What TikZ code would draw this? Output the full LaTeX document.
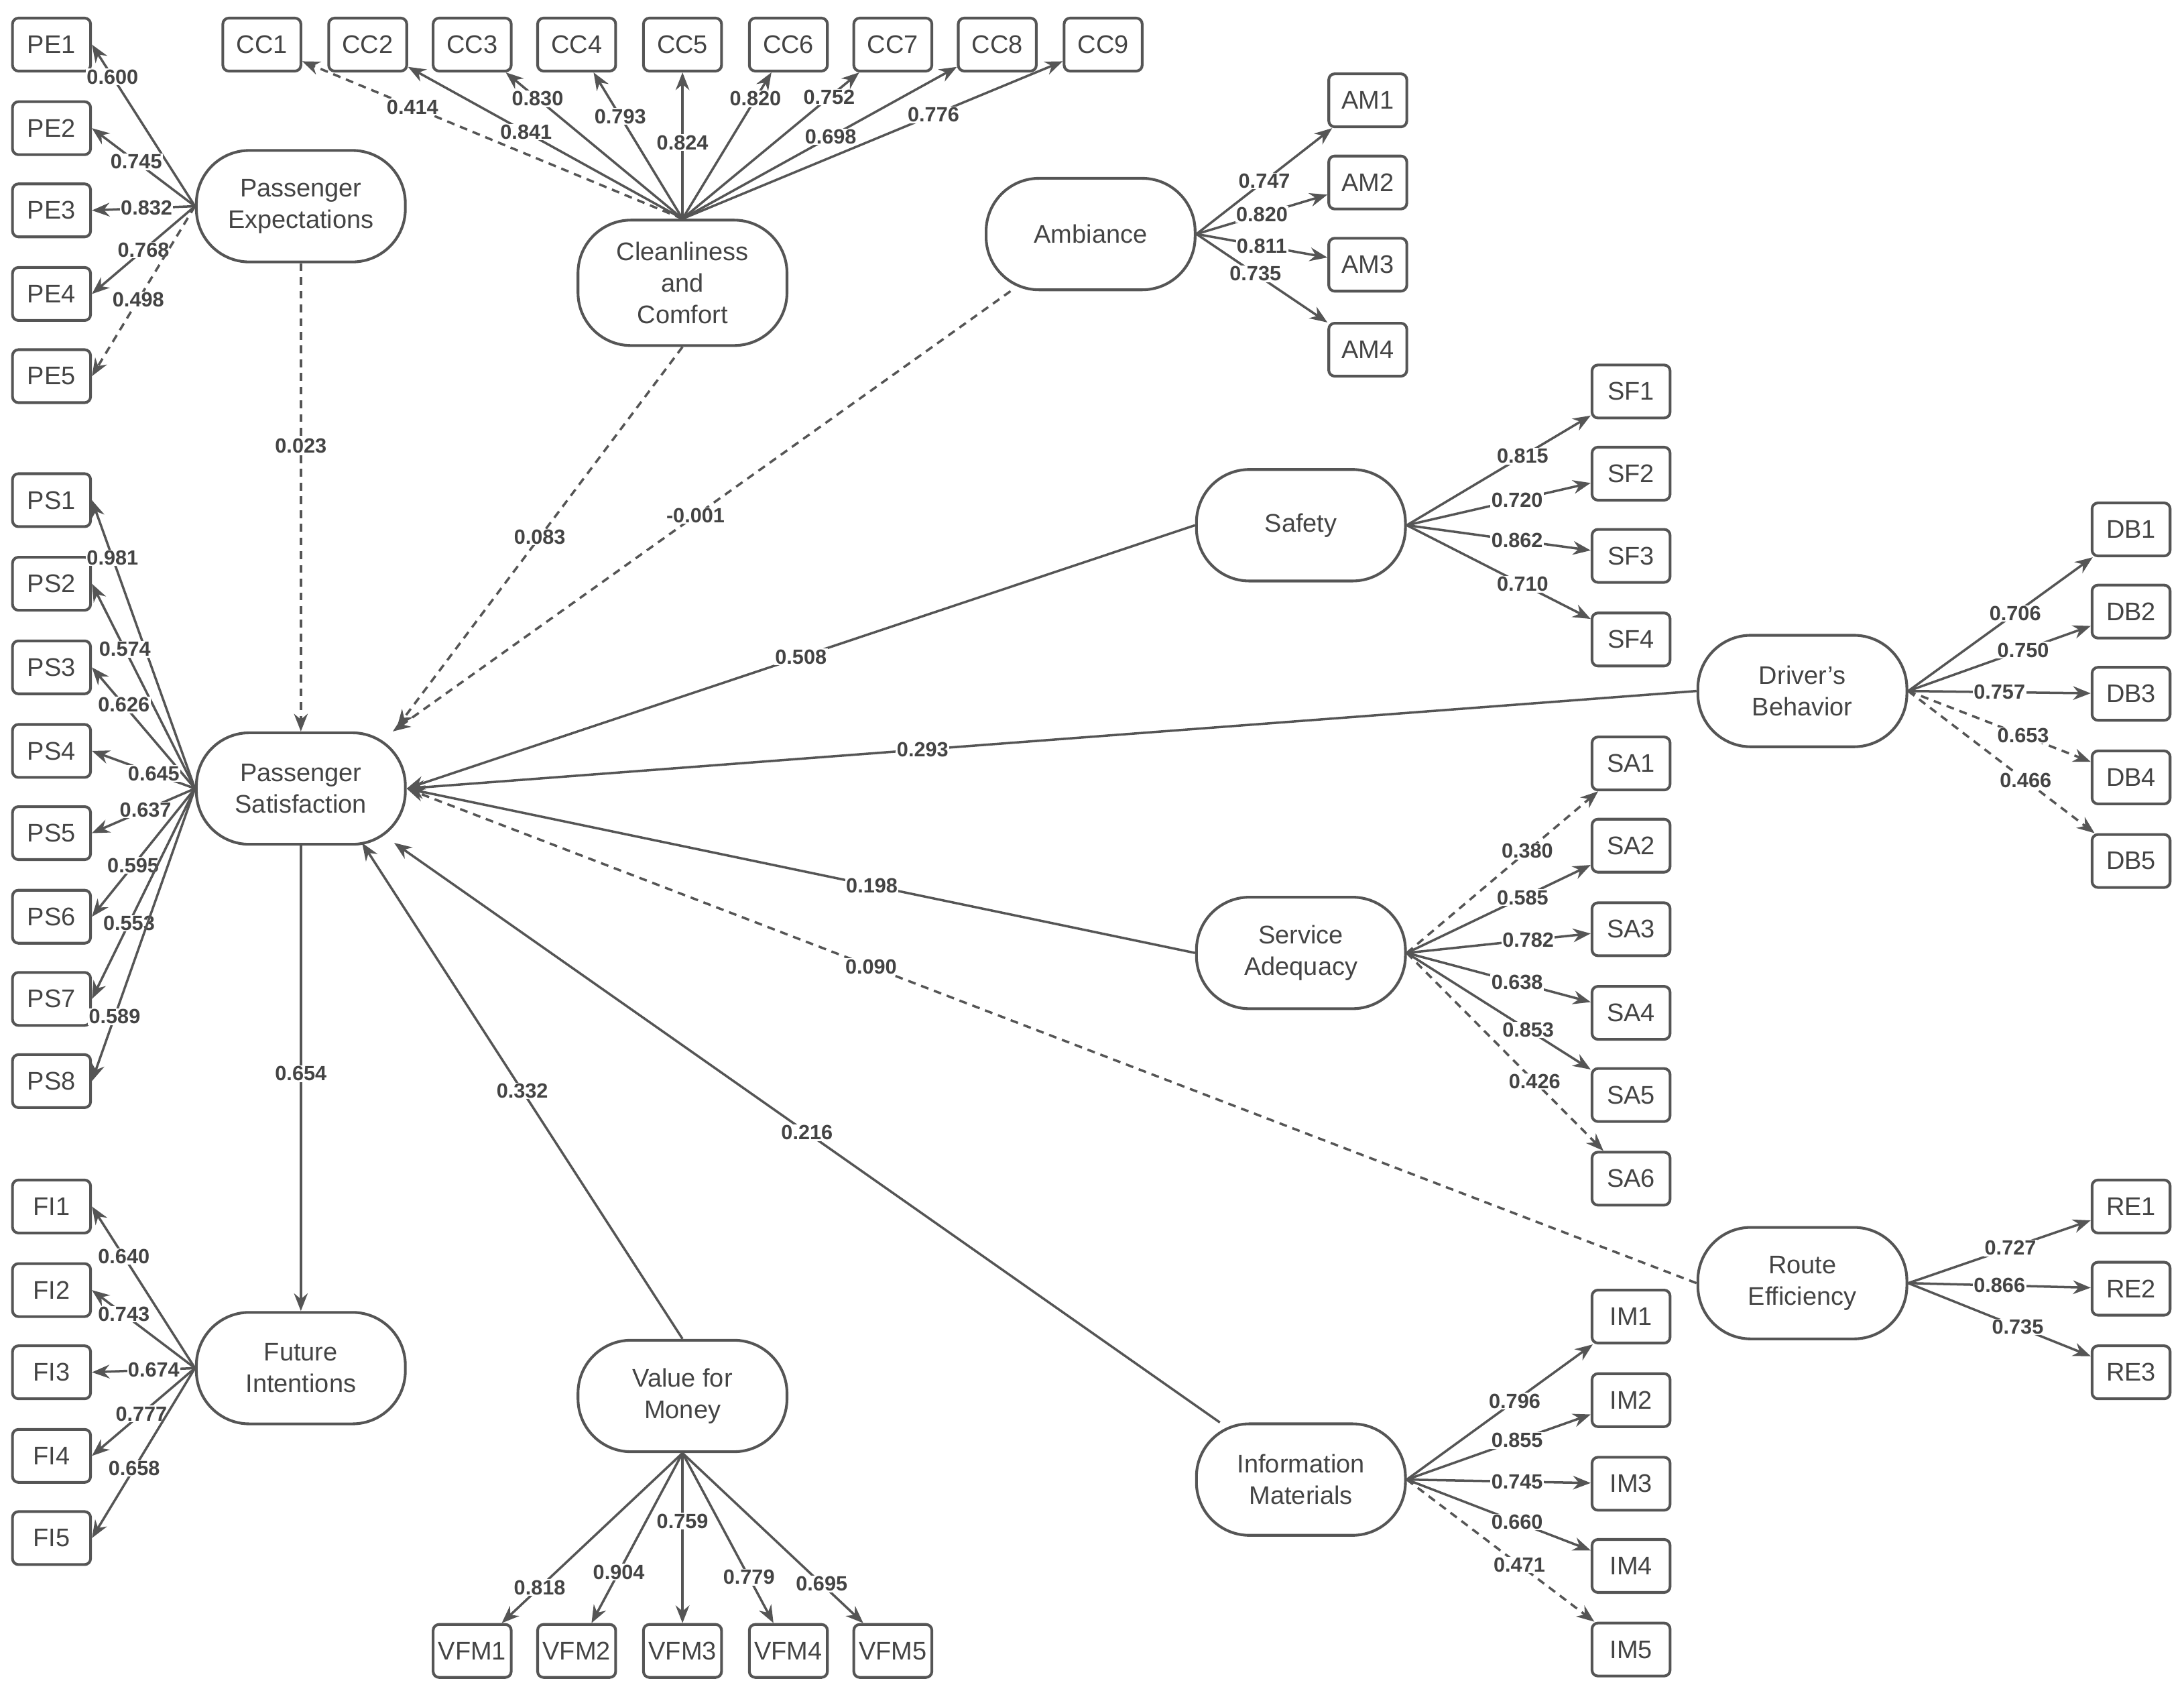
\documentclass[tikz,border=0pt]{standalone}
\usepackage{fontspec}
\setmainfont{Liberation Sans}
\usetikzlibrary{arrows.meta}
\definecolor{ln}{HTML}{555555}
\begin{document}
\begin{tikzpicture}[x=0.025cm,y=-0.025cm,
 ind/.style={draw=ln,line width=1.4pt,rounded corners=3pt,minimum width=1.4cm,minimum height=0.95cm,font=\fontsize{13}{15}\selectfont,text=ln!80!black,inner sep=1pt},
 lat/.style={draw=ln,line width=1.4pt,rounded corners=0.95cm,minimum width=3.75cm,minimum height=2cm,align=center,font=\fontsize{13}{16}\selectfont,text=ln!80!black},
 ar/.style={draw=ln,line width=1.2pt,-{Stealth[length=9pt,width=7pt]}},
 ds/.style={dash pattern=on 4pt off 3pt},
 lb/.style={fill=white,inner sep=0.5pt,font=\bfseries\fontsize{10.5}{12}\selectfont,text=ln!80!black}]
\useasboundingbox (0,0) rectangle (1568,1212);
% indicators
\foreach \i/\y in {1/32,2/92,3/151,4/211,5/270} \node[ind] (PE\i) at (37,\y) {PE\i};
\foreach \i/\x in {1/188,2/264,3/339,4/414,5/490,6/566,7/641,8/716,9/792} \node[ind] (CC\i) at (\x,32) {CC\i};
\foreach \i/\y in {1/72,2/131,3/190,4/251} \node[ind] (AM\i) at (982,\y) {AM\i};
\foreach \i/\y in {1/281,2/340,3/399,4/459} \node[ind] (SF\i) at (1171,\y) {SF\i};
\foreach \i/\y in {1/380,2/439,3/498,4/558,5/618} \node[ind] (DB\i) at (1530,\y) {DB\i};
\foreach \i/\y in {1/359,2/419,3/479,4/539,5/598,6/658,7/717,8/776} \node[ind] (PS\i) at (37,\y) {PS\i};
\foreach \i/\y in {1/548,2/607,3/667,4/727,5/786,6/846} \node[ind] (SA\i) at (1171,\y) {SA\i};
\foreach \i/\y in {1/866,2/925,3/985} \node[ind] (RE\i) at (1530,\y) {RE\i};
\foreach \i/\y in {1/866,2/926,3/985,4/1045,5/1104} \node[ind] (FI\i) at (37,\y) {FI\i};
\foreach \i/\x in {1/339,2/414,3/490,4/566,5/641} \node[ind] (VFM\i) at (\x,1185) {VFM\i};
\foreach \i/\y in {1/945,2/1005,3/1065,4/1124,5/1184} \node[ind] (IM\i) at (1171,\y) {IM\i};
% latents
\node[lat] (pe) at (216,148) {Passenger\\Expectations};
\node[lat,minimum height=2.25cm] (cc) at (490,203) {Cleanliness\\and\\Comfort};
\node[lat] (am) at (783,168) {Ambiance};
\node[lat] (sf) at (934,377) {Safety};
\node[lat] (db) at (1294,496) {Driver's\\Behavior};
\node[lat] (ps) at (216,566) {Passenger\\Satisfaction};
\node[lat] (sa) at (934,684) {Service\\Adequacy};
\node[lat] (re) at (1294,921) {Route\\Efficiency};
\node[lat] (fi) at (216,982) {Future\\Intentions};
\node[lat] (vfm) at (490,1002) {Value for\\Money};
\node[lat] (im) at (934,1062) {Information\\Materials};
% loadings
\foreach \t/\l/\p/\s in {PE1/0.600/0.8/,PE2/0.745/0.57/,PE3/0.832/0.47/,PE4/0.768/0.5/,PE5/0.498/0.55/ds}
 \draw[ar,\s] (pe.west) -- (\t.east) node[lb,pos=\p] {\l};
\foreach \t/\l/\p/\s in {CC1/0.414/0.71/ds,CC2/0.841/0.57/,CC3/0.830/0.82/,CC4/0.793/0.7/,CC5/0.824/0.52/,CC6/0.820/0.82/,CC7/0.752/0.83/,CC8/0.698/0.54/,CC9/0.776/0.66/}
 \draw[ar,\s] (cc.north) -- (\t) node[lb,pos=\p] {\l};
\foreach \t/\l/\p/\s in {AM1/0.747/0.5/,AM2/0.820/0.5/,AM3/0.811/0.5/,AM4/0.735/0.45/}
 \draw[ar,\s] (am.east) -- (\t) node[lb,pos=\p] {\l};
\foreach \t/\l/\p/\s in {SF1/0.815/0.63/,SF2/0.720/0.6/,SF3/0.862/0.6/,SF4/0.710/0.63/}
 \draw[ar,\s] (sf.east) -- (\t) node[lb,pos=\p] {\l};
\foreach \t/\l/\p/\s in {DB1/0.706/0.58/,DB2/0.750/0.63/,DB3/0.757/0.5/,DB4/0.653/0.63/ds,DB5/0.466/0.63/ds}
 \draw[ar,\s] (db.east) -- (\t) node[lb,pos=\p] {\l};
\foreach \t/\l/\p/\s in {PS1/0.981/0.8/,PS2/0.574/0.68/,PS3/0.626/0.69/,PS4/0.645/0.4/,PS5/0.637/0.48/,PS6/0.595/0.6/,PS7/0.553/0.64/,PS8/0.589/0.78/}
 \draw[ar,\s] (ps.west) -- (\t.east) node[lb,pos=\p] {\l};
\foreach \t/\l/\p/\s in {SA1/0.380/0.63/ds,SA2/0.585/0.63/,SA3/0.782/0.66/,SA4/0.638/0.6/,SA5/0.853/0.66/,SA6/0.426/0.65/ds}
 \draw[ar,\s] (sa.east) -- (\t) node[lb,pos=\p] {\l};
\foreach \t/\l/\p/\s in {RE1/0.727/0.56/,RE2/0.866/0.5/,RE3/0.735/0.6/}
 \draw[ar,\s] (re.east) -- (\t) node[lb,pos=\p] {\l};
\foreach \t/\l/\p/\s in {FI1/0.640/0.69/,FI2/0.743/0.69/,FI3/0.674/0.4/,FI4/0.777/0.52/,FI5/0.658/0.59/}
 \draw[ar,\s] (fi.west) -- (\t.east) node[lb,pos=\p] {\l};
\foreach \t/\l/\p/\s in {VFM1/0.818/0.79/,VFM2/0.904/0.7/,VFM3/0.759/0.4/,VFM4/0.779/0.73/,VFM5/0.695/0.77/}
 \draw[ar,\s] (vfm.south) -- (\t) node[lb,pos=\p] {\l};
\foreach \t/\l/\p/\s in {IM1/0.796/0.58/,IM2/0.855/0.6/,IM3/0.745/0.6/,IM4/0.660/0.6/,IM5/0.471/0.6/ds}
 \draw[ar,\s] (im.east) -- (\t) node[lb,pos=\p] {\l};
% structural
\coordinate (psA) at (285,522);
\coordinate (psB) at (282,525);
\coordinate (psI) at (283,605);
\coordinate (psV) at (260,605);
\draw[ar,ds] (pe) -- (ps) node[lb,pos=0.39] {0.023};
\draw[ar,ds] (cc.south) -- (psA) node[lb,pos=0.5] {0.083};
\draw[ar,ds] (am) -- (psB) node[lb,pos=0.51] {-0.001};
\draw[ar] (sf.west) -- (ps.east) node[lb,pos=0.5] {0.508};
\draw[ar] (db.west) -- (ps.east) node[lb,pos=0.6] {0.293};
\draw[ar] (sa.west) -- (ps.east) node[lb,pos=0.41] {0.198};
\draw[ar,ds] (re.west) -- (ps.east) node[lb,pos=0.64] {0.090};
\draw[ar] (im) -- (psI) node[lb,pos=0.5] {0.216};
\draw[ar] (vfm.north) -- (psV) node[lb,pos=0.5] {0.332};
\draw[ar] (ps) -- (fi) node[lb,pos=0.49] {0.654};
\end{tikzpicture}
\end{document}
